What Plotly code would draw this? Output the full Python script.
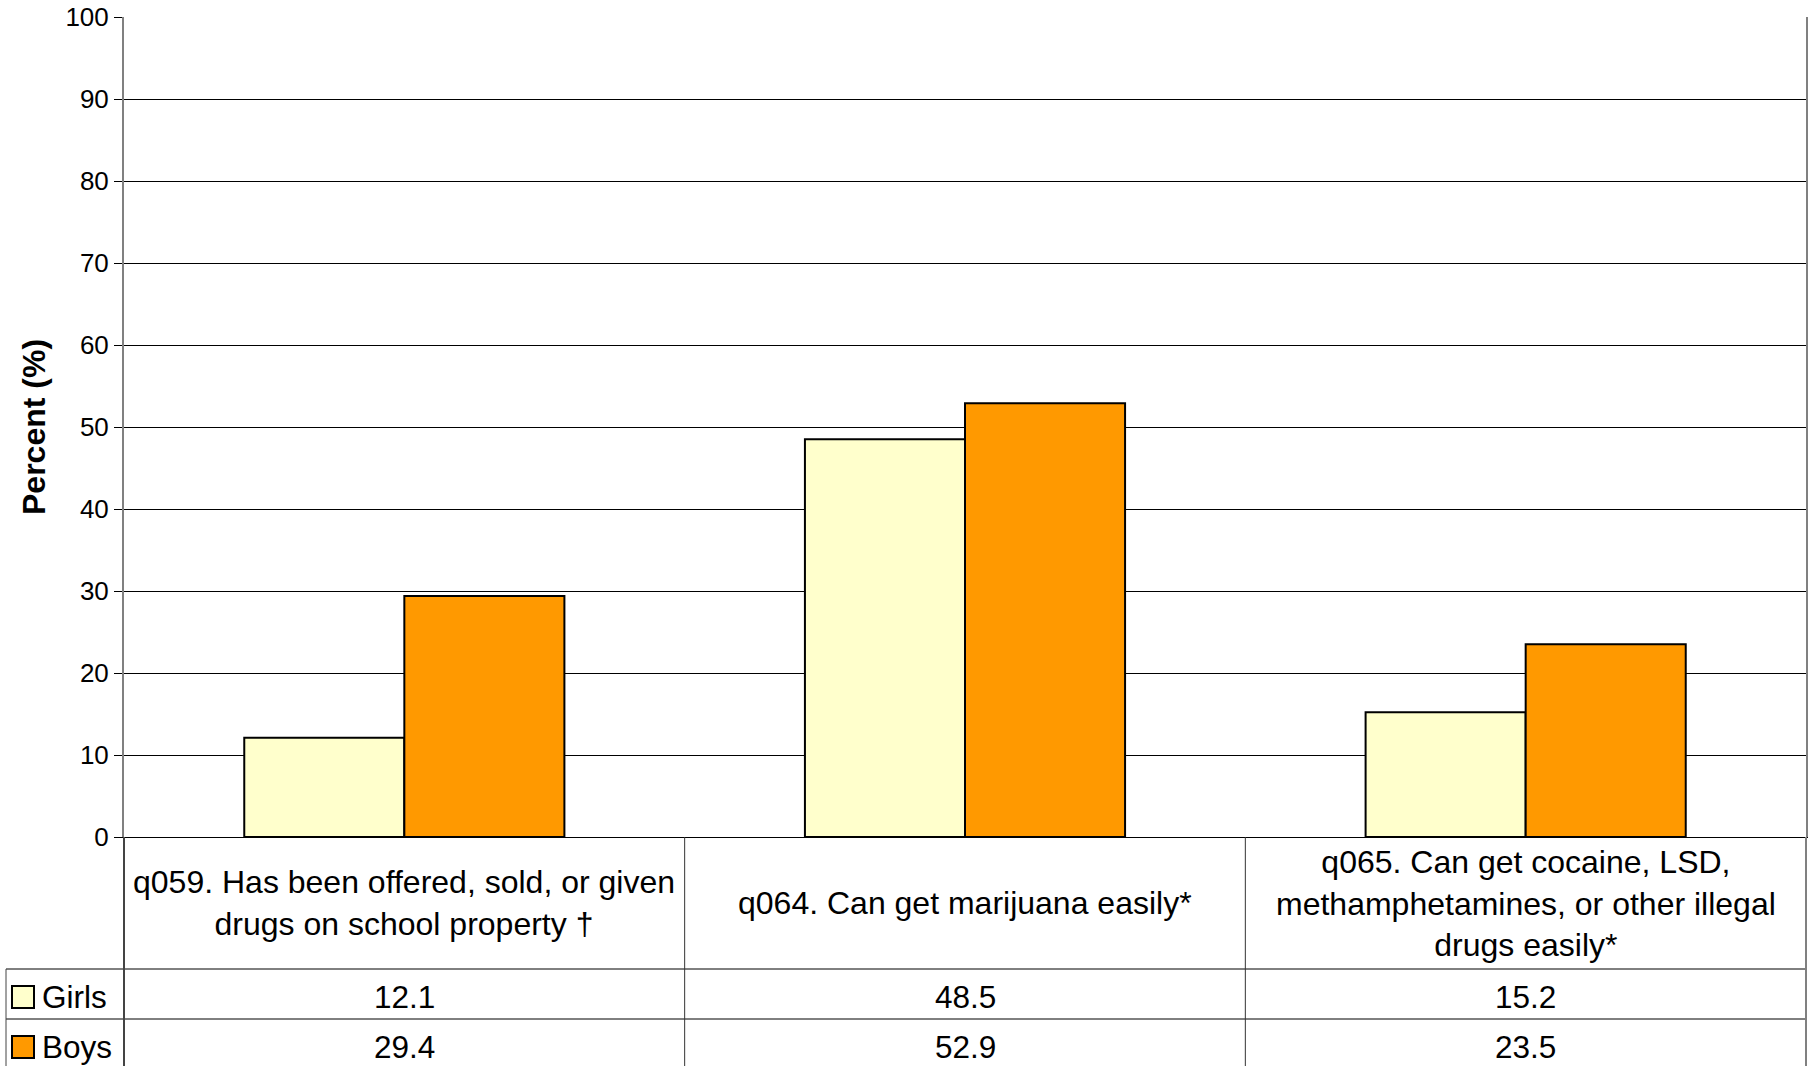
import plotly.graph_objects as go

categories = [
    "q059. Has been offered, sold, or given<br>drugs on school property †",
    "q064. Can get marijuana easily*",
    "q065. Can get cocaine, LSD,<br>methamphetamines, or other illegal<br>drugs easily*",
]
series_names = ["Girls", "Boys"]
girls = [12.1, 48.5, 15.2]
boys = [29.4, 52.9, 23.5]
colors = ["#FFFFCC", "#FF9900"]
y_ticks = list(range(0, 101, 10))

W, H = 1813, 1066
L, R, T, B = 124, 7, 17, 229
PW, PH = W - L - R, H - T - B

def px_y(p):
    return (H - B - p) / PH

def px_x(p):
    return (p - L) / PW

xs = list(range(len(categories)))
fig = go.Figure()
for name, vals, col in zip(series_names, [girls, boys], colors):
    fig.add_trace(go.Bar(x=xs, y=vals, name=name, marker=dict(color=col, line=dict(color="black", width=2)),
                         showlegend=False, hoverinfo="skip"))

font = "Liberation Sans, Arial, sans-serif"
shapes = []
annotations = []
n = len(categories)
row1 = px_y(969)
row2 = px_y(1019)
bottom = px_y(1080)
left_edge = px_x(6)

for yy in [row1, row2]:
    shapes.append(dict(type="line", xref="paper", yref="paper", x0=left_edge, x1=1, y0=yy, y1=yy,
                       line=dict(color="black", width=1)))
for k in range(1, n):
    xx = k / n
    shapes.append(dict(type="line", xref="paper", yref="paper", x0=xx, x1=xx, y0=0, y1=bottom,
                       line=dict(color="#333333", width=1)))
shapes.append(dict(type="line", xref="paper", yref="paper", x0=0, x1=0, y0=0, y1=bottom,
                   line=dict(color="#444444", width=2)))
shapes.append(dict(type="line", xref="paper", yref="paper", x0=1, x1=1, y0=0, y1=bottom,
                   line=dict(color="#808080", width=2)))
shapes.append(dict(type="line", xref="paper", yref="paper", x0=left_edge, x1=left_edge, y0=row1, y1=bottom,
                   line=dict(color="#444444", width=1)))

for i, c in enumerate(categories):
    annotations.append(dict(x=i, xref="x", y=px_y(903), yref="paper", text=c, showarrow=False,
                            font=dict(family=font, size=32, color="black"), align="center",
                            xanchor="center", yanchor="middle"))
row_centers = [px_y(997), px_y(1047)]
for r, (name, vals, col) in enumerate(zip(series_names, [girls, boys], colors)):
    yc = row_centers[r]
    for i, v in enumerate(vals):
        annotations.append(dict(x=i, xref="x", y=yc, yref="paper", text=f"{v:.1f}", showarrow=False,
                                font=dict(family=font, size=31.5, color="black"),
                                xanchor="center", yanchor="middle"))
    annotations.append(dict(x=px_x(40), xref="paper", y=yc, yref="paper", text=name, showarrow=False,
                            font=dict(family=font, size=31.5, color="black"),
                            xanchor="left", yanchor="middle"))
    shapes.append(dict(type="rect", xref="paper", yref="paper", x0=px_x(12), x1=px_x(34),
                       y0=yc - 11 / PH, y1=yc + 11 / PH, fillcolor=col,
                       line=dict(color="black", width=2)))

annotations.append(dict(x=px_x(34), xref="paper", y=px_y(427), yref="paper", text="<b>Percent (%)</b>",
                        showarrow=False, textangle=-90, font=dict(family=font, size=32, color="black"),
                        xanchor="center", yanchor="middle"))

fig.update_layout(
    template="none",
    width=W, height=H,
    margin=dict(l=L, r=R, t=T, b=B, pad=0, autoexpand=False),
    paper_bgcolor="white", plot_bgcolor="white",
    barmode="group", bargap=0.429, bargroupgap=0,
    xaxis=dict(range=[-0.5, n - 0.5], showticklabels=False, ticks="", showgrid=False, automargin=False,
               showline=True, linecolor="black", linewidth=1, zeroline=False, fixedrange=True),
    yaxis=dict(range=[0, 100], tickvals=y_ticks, ticktext=[str(t) for t in y_ticks], automargin=False,
               ticks="outside", ticklen=8, tickcolor="black", tickwidth=1,
               tickfont=dict(family=font, size=26, color="black"),
               showgrid=True, gridcolor="black", gridwidth=1, zeroline=False,
               showline=True, linecolor="#808080", linewidth=2, mirror=True, fixedrange=True),
    shapes=shapes, annotations=annotations,
    font=dict(family=font, color="black"),
)
fig.write_html("out.html", config={"displayModeBar": False},
               post_script="document.body.style.margin='0';document.body.style.overflow='hidden';")
